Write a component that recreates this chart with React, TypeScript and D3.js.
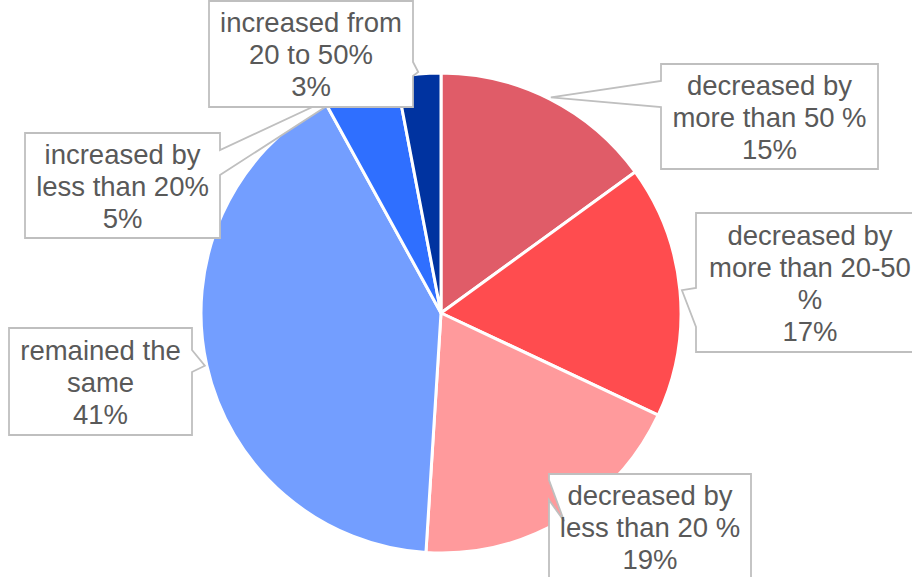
import React from "react";
import * as d3 from "d3";

const categories = [
  "decreased by more than 50 %",
  "decreased by more than 20-50 %",
  "decreased by less than 20 %",
  "remained the same",
  "increased by less than 20%",
  "increased from 20 to 50%",
];
const values = [15, 17, 19, 41, 5, 3];
const labelLines = [
  ["decreased by", "more than 50 %", "15%"],
  ["decreased by", "more than 20-50", "%", "17%"],
  ["decreased by", "less than 20 %", "19%"],
  ["remained the", "same", "41%"],
  ["increased by", "less than 20%", "5%"],
  ["increased from", "20 to 50%", "3%"],
];
const colors = ["#E05C68", "#FF4C4F", "#FF9A9C", "#739EFF", "#2F6FFF", "#0033A0"];

// callout layout: box and wedge base on a side
type Callout = { x: number; y: number; w: number; h: number; side: "left" | "right"; a: number; b: number };
const callouts: Callout[] = [
  { x: 661, y: 64, w: 217, h: 105, side: "left", a: 81, b: 107 },
  { x: 696, y: 213, w: 228, h: 139, side: "left", a: 288, b: 327 },
  { x: 549, y: 474, w: 202, h: 106, side: "left", a: 480, b: 500 },
  { x: 9, y: 328, w: 183, h: 107, side: "right", a: 350, b: 372 },
  { x: 25, y: 133, w: 195, h: 105, side: "right", a: 150, b: 175 },
  { x: 209, y: 1, w: 204, h: 106, side: "right", a: 62, b: 76 },
];

const W = 912;
const H = 577;
const cx = 441;
const cy = 313;
const R = 240;

export default function App() {
  const pie = d3.pie<number>().sort(null).value((d) => d)(values);
  const arc = d3.arc<d3.PieArcDatum<number>>().innerRadius(0).outerRadius(R);

  const calloutPath = (c: Callout, tip: [number, number]) => {
    const x0 = c.x, x1 = c.x + c.w, y0 = c.y, y1 = c.y + c.h;
    if (c.side === "left") {
      return `M${x0},${y0} L${x1},${y0} L${x1},${y1} L${x0},${y1} L${x0},${c.b} L${tip[0]},${tip[1]} L${x0},${c.a} Z`;
    }
    return `M${x0},${y0} L${x1},${y0} L${x1},${c.a} L${tip[0]},${tip[1]} L${x1},${c.b} L${x1},${y1} L${x0},${y1} Z`;
  };

  return (
    <svg
      width={W}
      height={H}
      style={{ position: "absolute", left: 0, top: 0, background: "#fff" }}
      fontFamily="'Liberation Sans', Arial, sans-serif"
    >
      <g transform={`translate(${cx},${cy})`}>
        {pie.map((p, i) => (
          <path key={categories[i]} d={arc(p) || ""} fill={colors[i]} stroke="#fff" strokeWidth={3} strokeLinejoin="round" />
        ))}
      </g>
      {pie.map((p, i) => {
        const c = callouts[i];
        const mid = (p.startAngle + p.endAngle) / 2;
        const tip: [number, number] = [cx + 242 * Math.sin(mid), cy - 242 * Math.cos(mid)];
        const lines = labelLines[i];
        const centerY = c.y + c.h / 2;
        const first = centerY - ((lines.length - 1) / 2) * 32 + 10;
        return (
          <g key={"c" + i}>
            <path d={calloutPath(c, tip)} fill="#fff" stroke="#BFBFBF" strokeWidth={1.8} />
            <text textAnchor="middle" fontSize={27.5} fill="#595959">
              {lines.map((t, j) => (
                <tspan key={j} x={c.x + c.w / 2} y={first + j * 32}>
                  {t}
                </tspan>
              ))}
            </text>
          </g>
        );
      })}
    </svg>
  );
}
